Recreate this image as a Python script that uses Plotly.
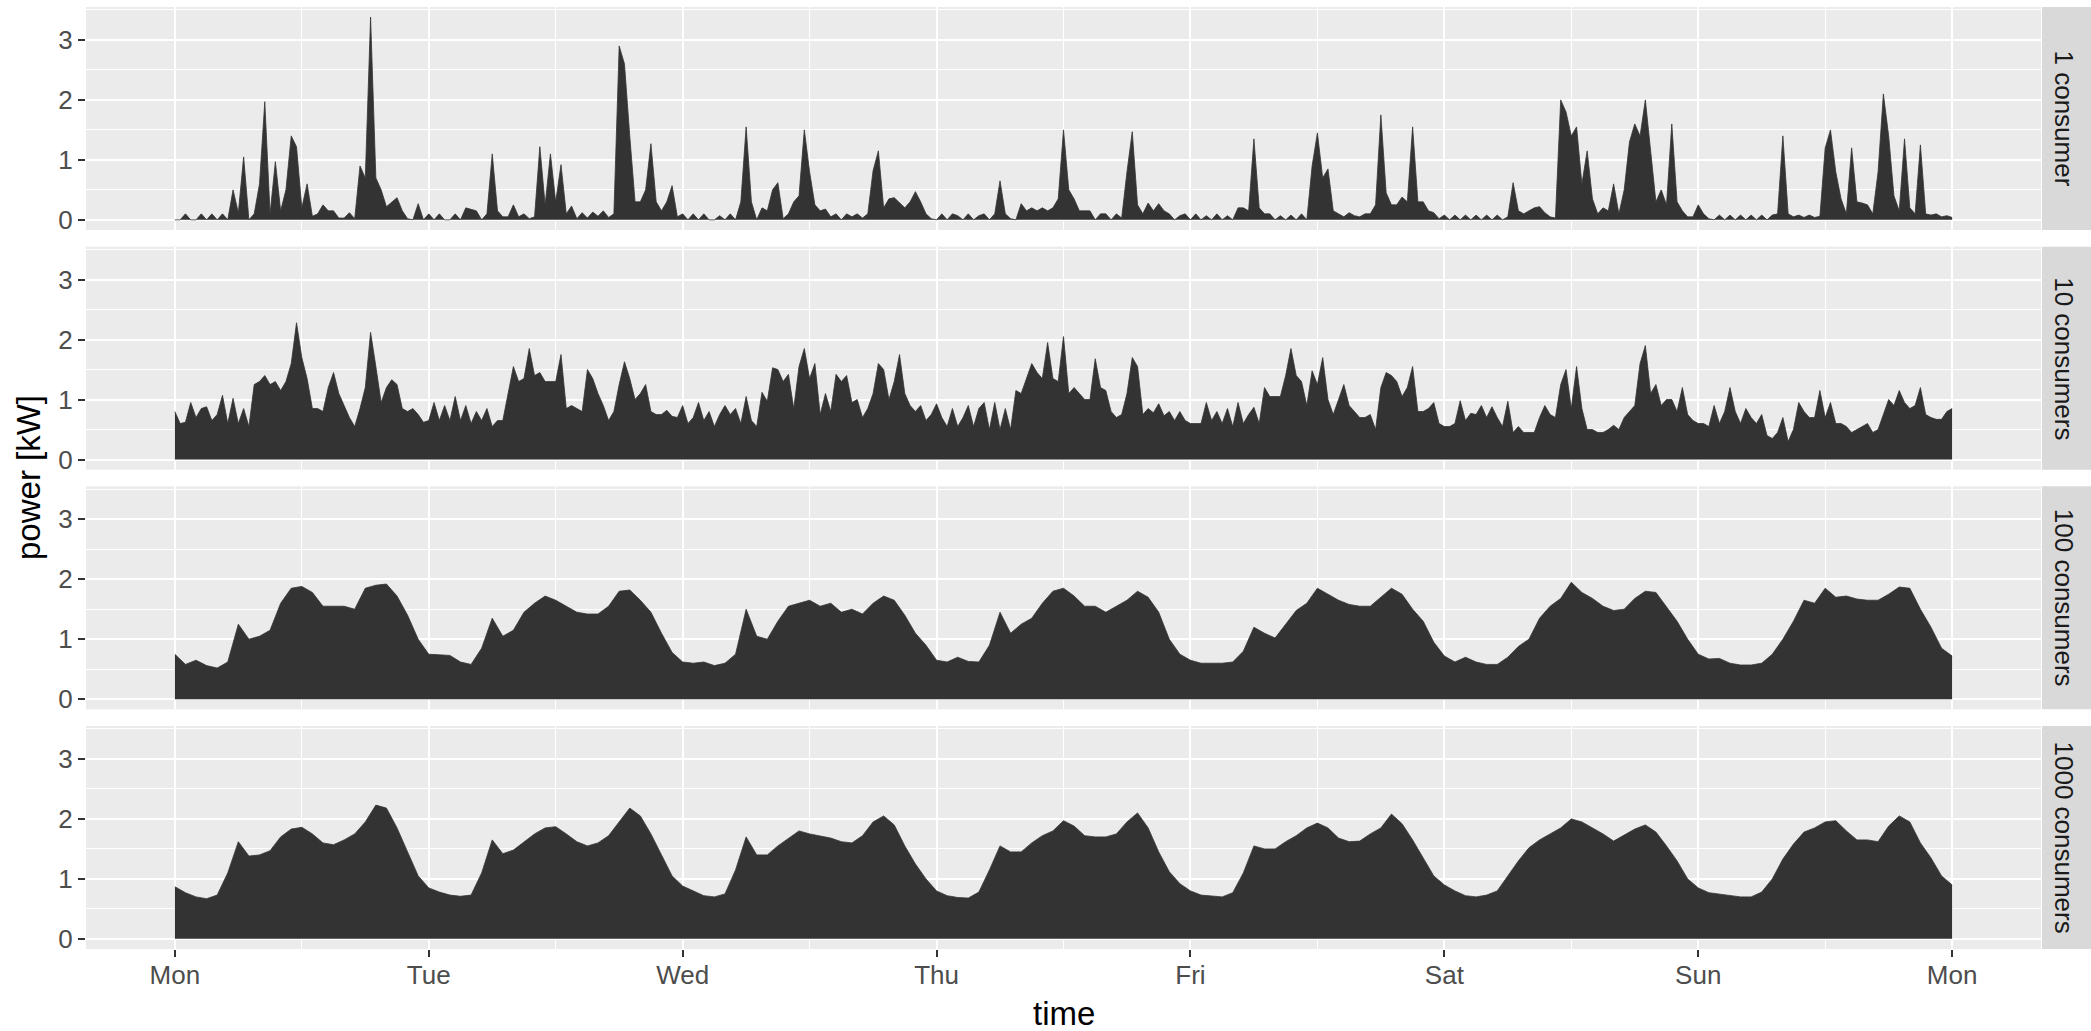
import pandas as pd
import plotly.graph_objects as go
from plotly.subplots import make_subplots

# ---------------------------------------------------------------------------
# Household load, one week (Mon 00:00 -> next Mon 00:00), power in kW
# ---------------------------------------------------------------------------
start = pd.Timestamp("2024-01-01 00:00")  # a Monday

panel_labels = ["1 consumer", "10 consumers", "100 consumers", "1000 consumers"]
day_labels = ["Mon", "Tue", "Wed", "Thu", "Fri", "Sat", "Sun", "Mon"]
y_ticks = [0, 1, 2, 3]

# single household, 30-minute resolution
power_1 = [
    # Mon
    0, 0, 0.1, 0, 0, 0.1, 0, 0.1, 0, 0.1,
    0, 0.5, 0.12, 1.05, 0, 0.1, 0.6, 1.97, 0.1, 0.97,
    0.15, 0.5, 1.4, 1.22, 0.2, 0.6, 0.06, 0.1, 0.25, 0.15,
    0.15, 0.03, 0.03, 0.12, 0.02, 0.9, 0.7, 3.38, 0.7, 0.5,
    0.22, 0.3, 0.37, 0.15, 0.02, 0, 0.27, 0,
    # Tue
    0.1, 0, 0.1, 0, 0, 0.1, 0, 0.2, 0.17, 0.15,
    0, 0.1, 1.1, 0.15, 0.05, 0.05, 0.25, 0.05, 0.1, 0.02,
    0.05, 1.22, 0.25, 1.1, 0.3, 0.92, 0.1, 0.23, 0.02, 0.12,
    0.03, 0.13, 0.06, 0.15, 0.04, 0.1, 2.9, 2.6, 1.4, 0.3,
    0.3, 0.5, 1.27, 0.3, 0.15, 0.3, 0.57, 0.05,
    # Wed
    0.1, 0, 0.1, 0, 0.1, 0, 0, 0.07, 0, 0.1,
    0, 0.3, 1.55, 0.3, 0, 0.2, 0.15, 0.5, 0.62, 0.02,
    0.1, 0.3, 0.4, 1.5, 0.8, 0.25, 0.15, 0.18, 0.05, 0.1,
    0, 0.1, 0.05, 0.1, 0.03, 0.1, 0.82, 1.15, 0.2, 0.35,
    0.37, 0.28, 0.2, 0.3, 0.47, 0.3, 0.1, 0.02,
    # Thu
    0, 0.1, 0, 0.1, 0.07, 0, 0.1, 0, 0.07, 0.1,
    0, 0.1, 0.65, 0.1, 0.02, 0, 0.27, 0.15, 0.2, 0.15,
    0.2, 0.15, 0.2, 0.35, 1.5, 0.5, 0.35, 0.15, 0.15, 0.15,
    0, 0.1, 0.1, 0, 0.1, 0.03, 0.8, 1.47, 0.25, 0.1,
    0.28, 0.15, 0.27, 0.15, 0.1, 0, 0.07, 0.1,
    # Fri
    0, 0.1, 0, 0.07, 0, 0.1, 0, 0.07, 0, 0.2,
    0.2, 0.15, 1.35, 0.2, 0.1, 0.1, 0, 0.07, 0, 0.08,
    0, 0.1, 0, 0.9, 1.45, 0.7, 0.85, 0.15, 0.1, 0.05,
    0.12, 0.07, 0.05, 0.1, 0.1, 0.25, 1.75, 0.45, 0.25, 0.25,
    0.38, 0.3, 1.55, 0.3, 0.3, 0.15, 0.12, 0.02,
    # Sat
    0.08, 0, 0.08, 0, 0.08, 0, 0.08, 0, 0.08, 0,
    0.08, 0, 0.05, 0.62, 0.15, 0.1, 0.15, 0.2, 0.22, 0.12,
    0.05, 0.03, 2.0, 1.8, 1.4, 1.55, 0.6, 1.15, 0.35, 0.1,
    0.2, 0.15, 0.6, 0.1, 0.5, 1.3, 1.6, 1.4, 2.0, 1.2,
    0.3, 0.5, 0.25, 1.6, 0.3, 0.15, 0.05, 0.05,
    # Sun (+ closing Monday 00:00)
    0.25, 0.1, 0.02, 0, 0.08, 0, 0.08, 0, 0.08, 0,
    0.08, 0, 0.08, 0, 0.08, 0.1, 1.4, 0.1, 0.05, 0.08,
    0.04, 0.08, 0.04, 0.06, 1.2, 1.5, 0.8, 0.35, 0.1, 1.2,
    0.3, 0.28, 0.25, 0.1, 0.8, 2.1, 1.4, 0.4, 0.15, 1.35,
    0.2, 0.1, 1.25, 0.1, 0.08, 0.1, 0.05, 0.07, 0.04,
]

# mean of 10 households, 30-minute resolution
power_10 = [
    # Mon
    0.8, 0.6, 0.62, 0.95, 0.7, 0.85, 0.88, 0.65, 0.75, 1.07,
    0.6, 1.02, 0.6, 0.85, 0.55, 1.25, 1.3, 1.4, 1.25, 1.3,
    1.15, 1.3, 1.6, 2.28, 1.7, 1.35, 0.85, 0.85, 0.8, 1.2,
    1.45, 1.1, 0.9, 0.7, 0.55, 0.85, 1.2, 2.12, 1.55, 0.95,
    1.2, 1.33, 1.25, 0.85, 0.8, 0.85, 0.75, 0.62,
    # Tue
    0.65, 0.95, 0.65, 0.9, 0.65, 1.05, 0.65, 0.9, 0.6, 0.8,
    0.65, 0.85, 0.55, 0.65, 0.65, 1.1, 1.55, 1.3, 1.35, 1.85,
    1.4, 1.45, 1.3, 1.3, 1.3, 1.75, 0.85, 0.9, 0.85, 0.8,
    1.5, 1.35, 1.1, 0.9, 0.65, 0.8, 1.25, 1.63, 1.35, 1.0,
    1.1, 1.25, 0.8, 0.75, 0.75, 0.82, 0.72, 0.7,
    # Wed
    0.9, 0.6, 0.7, 0.95, 0.65, 0.8, 0.55, 0.75, 0.9, 0.75,
    0.85, 0.6, 1.05, 0.65, 0.55, 1.12, 0.97, 1.53, 1.5, 1.3,
    1.42, 0.85, 1.55, 1.85, 1.35, 1.6, 0.75, 1.1, 0.8, 1.42,
    1.3, 1.4, 0.95, 1.0, 0.7, 0.85, 1.1, 1.6, 1.5, 1.0,
    1.3, 1.75, 1.1, 0.9, 0.8, 0.9, 0.65, 0.75,
    # Thu
    0.93, 0.7, 0.55, 0.85, 0.55, 0.7, 0.9, 0.55, 0.85, 0.95,
    0.5, 0.95, 0.5, 0.85, 0.5, 1.15, 1.1, 1.35, 1.6, 1.45,
    1.35, 1.95, 1.35, 1.3, 2.05, 1.1, 1.2, 1.1, 1.0, 1.0,
    1.68, 1.2, 1.15, 0.8, 0.7, 0.75, 1.1, 1.7, 1.55, 0.75,
    0.85, 0.78, 0.93, 0.73, 0.8, 0.65, 0.8, 0.65,
    # Fri
    0.6, 0.6, 0.6, 0.95, 0.65, 0.8, 0.6, 0.85, 0.55, 0.95,
    0.6, 0.75, 0.87, 0.6, 1.2, 1.05, 1.05, 1.05, 1.4, 1.85,
    1.4, 1.3, 0.9, 1.48, 1.25, 1.7, 1.0, 0.75, 1.0, 1.25,
    0.9, 0.8, 0.7, 0.7, 0.75, 0.5, 1.2, 1.45, 1.4, 1.3,
    1.05, 1.2, 1.55, 0.8, 0.8, 0.85, 0.95, 0.6,
    # Sat
    0.55, 0.55, 0.6, 0.98, 0.65, 0.77, 0.75, 0.9, 0.7, 0.88,
    0.7, 0.55, 0.97, 0.45, 0.55, 0.45, 0.45, 0.45, 0.7, 0.9,
    0.75, 0.7, 1.25, 1.5, 0.85, 1.55, 0.85, 0.5, 0.5, 0.45,
    0.45, 0.5, 0.57, 0.5, 0.7, 0.8, 0.9, 1.6, 1.9, 1.1,
    1.25, 0.9, 1.0, 1.0, 0.8, 1.2, 0.75, 0.65,
    # Sun (+ closing Monday 00:00)
    0.6, 0.6, 0.55, 0.9, 0.6, 0.8, 1.2, 0.8, 0.6, 0.85,
    0.7, 0.6, 0.75, 0.4, 0.35, 0.45, 0.7, 0.3, 0.5, 0.95,
    0.8, 0.7, 0.7, 1.15, 0.7, 0.95, 0.6, 0.6, 0.55, 0.45,
    0.5, 0.55, 0.6, 0.45, 0.5, 0.75, 1.0, 0.9, 1.15, 0.95,
    0.85, 0.9, 1.2, 0.75, 0.7, 0.67, 0.67, 0.8, 0.85,
]

# mean of 100 households, hourly resolution
power_100 = [
    0.75, 0.58, 0.65, 0.56, 0.52, 0.62, 1.25, 1.0, 1.05, 1.15, 1.6, 1.85,
    1.88, 1.78, 1.55, 1.55, 1.55, 1.5, 1.85, 1.9, 1.92, 1.72, 1.4, 1.0,
    0.75, 0.74, 0.73, 0.62, 0.58, 0.85, 1.35, 1.05, 1.15, 1.45, 1.6, 1.72,
    1.65, 1.55, 1.45, 1.42, 1.42, 1.55, 1.8, 1.82, 1.65, 1.45, 1.1, 0.78,
    0.62, 0.6, 0.62, 0.56, 0.6, 0.75, 1.5, 1.05, 1.0, 1.3, 1.55, 1.6,
    1.65, 1.55, 1.6, 1.45, 1.5, 1.42, 1.6, 1.72, 1.65, 1.4, 1.1, 0.9,
    0.65, 0.62, 0.7, 0.63, 0.62, 0.9, 1.45, 1.1, 1.25, 1.35, 1.6, 1.8,
    1.85, 1.72, 1.55, 1.55, 1.45, 1.55, 1.65, 1.8, 1.7, 1.45, 1.0, 0.75,
    0.65, 0.6, 0.6, 0.6, 0.62, 0.8, 1.2, 1.1, 1.02, 1.25, 1.48, 1.6,
    1.85, 1.75, 1.65, 1.58, 1.55, 1.55, 1.7, 1.85, 1.75, 1.5, 1.3, 0.95,
    0.72, 0.62, 0.7, 0.62, 0.58, 0.58, 0.7, 0.88, 1.0, 1.35, 1.55, 1.68,
    1.95, 1.78, 1.68, 1.55, 1.48, 1.5, 1.68, 1.8, 1.78, 1.55, 1.3, 1.0,
    0.75, 0.67, 0.68, 0.6, 0.57, 0.57, 0.6, 0.75, 1.0, 1.3, 1.65, 1.6,
    1.85, 1.7, 1.72, 1.67, 1.65, 1.65, 1.75, 1.87, 1.85, 1.5, 1.2, 0.85,
    0.72,
]

# mean of 1000 households, hourly resolution
power_1000 = [
    0.87, 0.77, 0.7, 0.67, 0.73, 1.1, 1.62, 1.38, 1.4, 1.47, 1.7, 1.83,
    1.86, 1.75, 1.6, 1.57, 1.65, 1.75, 1.95, 2.23, 2.18, 1.85, 1.45, 1.05,
    0.85, 0.78, 0.73, 0.71, 0.73, 1.1, 1.65, 1.42, 1.48, 1.62, 1.75, 1.85,
    1.87, 1.75, 1.62, 1.55, 1.6, 1.72, 1.95, 2.18, 2.05, 1.75, 1.4, 1.05,
    0.88, 0.8, 0.72, 0.7, 0.75, 1.15, 1.7, 1.4, 1.4, 1.55, 1.68, 1.8,
    1.75, 1.72, 1.68, 1.62, 1.6, 1.72, 1.95, 2.05, 1.9, 1.55, 1.25, 1.0,
    0.8, 0.72, 0.69, 0.68, 0.78, 1.15, 1.55, 1.45, 1.45, 1.6, 1.72, 1.8,
    1.97, 1.88, 1.72, 1.7, 1.7, 1.75, 1.95, 2.1, 1.85, 1.45, 1.12, 0.92,
    0.8, 0.73, 0.71, 0.7, 0.77, 1.1, 1.55, 1.5, 1.5, 1.62, 1.72, 1.85,
    1.93, 1.85, 1.68, 1.62, 1.63, 1.75, 1.85, 2.08, 1.92, 1.65, 1.35, 1.05,
    0.9, 0.8, 0.72, 0.7, 0.73, 0.8, 1.05, 1.3, 1.52, 1.65, 1.75, 1.85,
    2.0, 1.95, 1.85, 1.75, 1.63, 1.73, 1.83, 1.9, 1.78, 1.55, 1.3, 1.0,
    0.85, 0.77, 0.75, 0.72, 0.7, 0.7, 0.78, 1.0, 1.33, 1.58, 1.78, 1.85,
    1.95, 1.97, 1.8, 1.65, 1.65, 1.62, 1.88, 2.05, 1.95, 1.6, 1.35, 1.05,
    0.9,
]

series = [
    (power_1, "30min"),
    (power_10, "30min"),
    (power_100, "60min"),
    (power_1000, "60min"),
]

# ---------------------------------------------------------------------------
# Figure geometry (pixels)
# ---------------------------------------------------------------------------
W, H = 2091, 1031
M_L, M_R, M_T, M_B = 86, 50, 7, 82
plot_w = W - M_L - M_R
plot_h = H - M_T - M_B
panel_h = 223.0
gap = (plot_h - 4 * panel_h) / 3

FONT = "Liberation Sans, Arial, Helvetica, sans-serif"
FILL = "#333333"
PANEL_BG = "#EBEBEB"
STRIP_BG = "#D9D9D9"

fig = make_subplots(rows=4, cols=1, shared_xaxes=True, vertical_spacing=gap / plot_h)

for i, (vals, step) in enumerate(series):
    t = pd.date_range(start, periods=len(vals), freq=step)
    fig.add_trace(
        go.Scatter(
            x=t, y=vals, mode="lines", fill="tozeroy",
            fillcolor=FILL, line=dict(color=FILL, width=0.8),
            hoverinfo="skip", showlegend=False,
        ),
        row=i + 1, col=1,
    )

days = pd.date_range(start, periods=len(day_labels), freq="D")
noons = days[:-1] + pd.Timedelta(hours=12)
pad = pd.Timedelta(days=7 * 0.05)
x_range = [days[0] - pad, days[-1] + pad]

y_lo, y_hi = -0.169, 3.549
tick_font = dict(family=FONT, size=26, color="#4D4D4D")

for i in range(4):
    top = min(1.0, max(0.0, 1 - i * (panel_h + gap) / plot_h))
    bottom = min(1.0, max(0.0, top - panel_h / plot_h))
    if i == 3:
        bottom = 0.0
    last = i == 3
    fig.update_xaxes(
        row=i + 1, col=1,
        range=x_range, tickmode="array", tickvals=days, ticktext=day_labels,
        showticklabels=last, ticks="outside" if last else "",
        ticklen=7, tickwidth=2, tickcolor="#333333", tickfont=tick_font,
        ticklabelstandoff=-4,
        showgrid=True, gridcolor="white", gridwidth=2.2,
        minor=dict(tickmode="array", tickvals=noons, showgrid=True,
                   gridcolor="white", gridwidth=1.1, ticks=""),
        zeroline=False, showline=False, automargin=False,
    )
    fig.update_yaxes(
        row=i + 1, col=1,
        domain=[bottom, top], range=[y_lo, y_hi],
        tickmode="array", tickvals=y_ticks, ticktext=[str(v) for v in y_ticks],
        ticks="outside", ticklen=7, tickwidth=2, tickcolor="#333333",
        tickfont=tick_font,
        showgrid=True, gridcolor="white", gridwidth=2.2,
        minor=dict(tickmode="array", tickvals=[0.5, 1.5, 2.5, 3.5], showgrid=True,
                   gridcolor="white", gridwidth=1.1, ticks=""),
        zeroline=False, showline=False, automargin=False,
    )

    # facet strip on the right
    fig.add_shape(
        type="rect", xref="paper", yref="paper",
        x0=(plot_w + 1) / plot_w, x1=(W - M_L + 20) / plot_w, y0=bottom, y1=top,
        fillcolor=STRIP_BG, line=dict(width=0), layer="below",
    )
    fig.add_annotation(
        xref="paper", yref="paper",
        x=(2064 - M_L) / plot_w, y=(bottom + top) / 2,
        text=panel_labels[i], textangle=90, showarrow=False,
        xanchor="center", yanchor="middle",
        font=dict(family=FONT, size=26, color="#1A1A1A"),
    )

# axis titles
fig.add_annotation(
    xref="paper", yref="paper", x=(28 - M_L) / plot_w, y=0.5,
    text="power [kW]", textangle=-90, showarrow=False,
    xanchor="center", yanchor="middle",
    font=dict(family=FONT, size=33, color="black"),
)
fig.add_annotation(
    xref="paper", yref="paper", x=0.5, y=-(1013 - (H - M_B)) / plot_h,
    text="time", showarrow=False, xanchor="center", yanchor="middle",
    font=dict(family=FONT, size=33, color="black"),
)

fig.update_layout(
    width=W, height=H, autosize=False,
    margin=dict(l=M_L, r=M_R, t=M_T, b=M_B),
    paper_bgcolor="white", plot_bgcolor=PANEL_BG,
    font=dict(family=FONT),
    showlegend=False,
)

fig.write_html("out.html")
